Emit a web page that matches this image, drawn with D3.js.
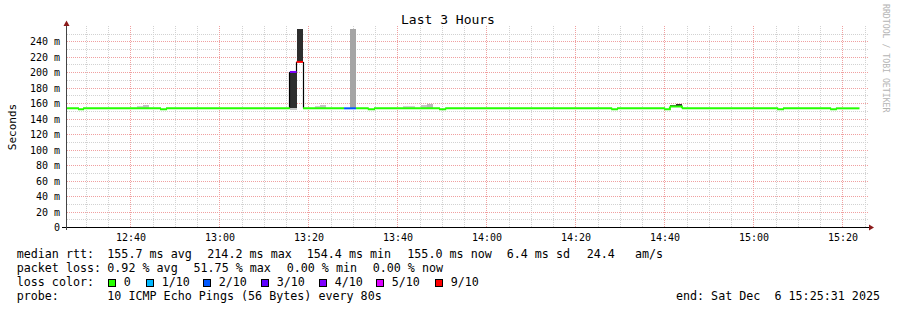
<!DOCTYPE html>
<html>
<head>
<meta charset="utf-8">
<script src="https://cdn.jsdelivr.net/npm/d3@7"></script>
<style>
  body { margin: 0; background: #fff; }
  svg { display: block; }
  text { font-family: "DejaVu Sans Mono", monospace; fill: #000; white-space: pre; }
</style>
</head>
<body>
<svg></svg>
<script>
const width = 897;
const height = 310;

// median rtt, as steps: change times, value (ms) and lost pings (out of 10)
const medianTime = ['12:25:31', '12:28:06', '12:29:14', '12:46:32', '12:47:53', '13:15:43', '13:17:13',
  '13:18:40', '13:27:53', '13:30:35', '13:33:13', '13:34:37', '13:49:13', '13:50:37', '14:27:55',
  '14:29:13', '14:39:49', '14:41:07', '14:43:49', '15:05:13', '15:06:31', '15:17:07', '15:18:25', '15:23:43'];
const medianValue = [154, 152.7, 154, 152.7, 154, 201, 214, 154, 154, 154, 152.7, 154, 152.7, 154, 152.7,
  154, 152.7, 156.5, 154, 152.7, 154, 152.7, 154];
const medianLoss = [0, 0, 0, 0, 0, 4, 9, 0, 2, 0, 0, 0, 0, 0, 0, 0, 0, 0, 0, 0, 0, 0, 0];

// smoke bands: start, end, low and high rtt (ms), pings in band
const smokeStart = ['12:41:20', '12:42:41', '13:15:43', '13:15:43', '13:17:13', '13:21:20', '13:22:35',
  '13:29:13', '13:41:04', '13:45:13', '13:46:34', '14:41:07', '14:42:28'];
const smokeEnd = ['12:42:41', '12:44:02', '13:17:13', '13:17:13', '13:18:40', '13:22:35', '13:23:50',
  '13:30:35', '13:43:49', '13:46:34', '13:47:55', '14:42:28', '14:43:49'];
const smokeLow = [155, 155, 151.5, 154, 214, 155, 155, 154, 155, 155, 155, 156.5, 156.5];
const smokeHigh = [157.5, 158.5, 154, 201, 257, 157.5, 158.3, 257, 157.5, 158, 159.5, 158.5, 160];
const smokePings = [2.3, 3, 2.8, 10, 10, 2.3, 2.8, 4.3, 2.2, 2.8, 3.4, 8.5, 10];

const yTicks = [0, 20, 40, 60, 80, 100, 120, 140, 160, 180, 200, 220, 240];
const lossLabels = ['0', '1/10', '2/10', '3/10', '4/10', '5/10', '9/10'];
const lossSteps = [0, 1, 2, 3, 4, 5, 9];
const lossColors = ['#26ff00', '#00b8ff', '#0059ff', '#5e00ff', '#7e00ff', '#dd00ff', '#ff0000'];

const rttStats = ['median rtt:', '155.7 ms avg', '214.2 ms max', '154.4 ms min', '155.0 ms now', '6.4 ms sd', '24.4', 'am/s'];
const lossStats = ['packet loss:', '0.92 % avg', '51.75 % max', '0.00 % min', '0.00 % now'];
const probeText = ['probe:', '10 ICMP Echo Pings (56 Bytes) every 80s'];
const endText = 'end: Sat Dec  6 15:25:31 2025';

const parseT = s => d3.timeParse('%Y-%m-%d %H:%M:%S')('2025-12-06 ' + s);

const svg = d3.select('svg')
  .attr('width', width)
  .attr('height', height);

const x = d3.scaleTime()
  .domain([parseT('12:25:31'), parseT('15:25:31')])
  .range([66.5, 867.5]);

const y = d3.scaleLinear()
  .domain([0, 260])
  .range([227.5, 26.3]);

const lossColor = d3.scaleOrdinal().domain(lossSteps).range(lossColors);
const smokeShade = d3.scaleLinear().domain([0, 10]).range(['#ffffff', '#2e2e2e']);
const px = v => Math.floor(v) + 0.5;

// ====================================
// Grid
// ====================================
const grid = svg.append('g')
  .attr('stroke-dasharray', '1,1')
  .attr('stroke-width', 1)
  .attr('shape-rendering', 'crispEdges');

const [t0, t1] = x.domain();
d3.timeMinute.every(5).range(t0, t1)
  .filter(d => d.getMinutes() % 20 !== 0)
  .forEach(d => {
    grid.append('line')
      .attr('x1', px(x(d))).attr('x2', px(x(d)))
      .attr('y1', 26).attr('y2', 227)
      .attr('stroke', '#d2d2d2');
  });

d3.range(10, 260, 20).forEach(v => {
  grid.append('line')
    .attr('x1', 67).attr('x2', 869)
    .attr('y1', px(y(v))).attr('y2', px(y(v)))
    .attr('stroke', '#d2d2d2');
});

x.ticks(d3.timeMinute.every(20)).forEach(d => {
  grid.append('line')
    .attr('x1', px(x(d))).attr('x2', px(x(d)))
    .attr('y1', 26).attr('y2', 227)
    .attr('stroke', '#f0a0a0');
});

yTicks.filter(v => v > 0).forEach(v => {
  grid.append('line')
    .attr('x1', 67).attr('x2', 869)
    .attr('y1', px(y(v))).attr('y2', px(y(v)))
    .attr('stroke', '#f0a0a0');
});

// ====================================
// Smoke
// ====================================
svg.append('g')
  .selectAll('rect')
  .data(smokeStart.map((s, i) => ({ s: parseT(s), e: parseT(smokeEnd[i]), lo: smokeLow[i], hi: smokeHigh[i], n: smokePings[i] })))
  .enter()
  .append('rect')
  .attr('x', d => x(d.s))
  .attr('width', d => x(d.e) - x(d.s))
  .attr('y', d => y(d.hi))
  .attr('height', d => y(d.lo) - y(d.hi))
  .attr('fill', d => smokeShade(d.n))
  .attr('shape-rendering', 'crispEdges');

// ====================================
// Median line
// ====================================
const segs = medianValue.map((v, i) => ({
  s: parseT(medianTime[i]), e: parseT(medianTime[i + 1]), v, loss: medianLoss[i]
}));

const med = svg.append('g').attr('fill', 'none');

segs.forEach((d, i) => {
  const next = segs[i + 1];
  if (next && next.loss !== d.loss) {
    med.append('line')
      .attr('x1', px(x(d.e))).attr('x2', px(x(d.e)))
      .attr('y1', y(d.v)).attr('y2', y(next.v))
      .attr('stroke', '#000')
      .attr('stroke-width', 1.2);
  }
});

segs.forEach((d, i) => {
  const next = segs[i + 1];
  let path = `M${x(d.s)},${y(d.v)}H${x(d.e)}`;
  if (next && next.loss === d.loss) path += `V${y(next.v)}`;
  med.append('path')
    .attr('d', path)
    .attr('stroke', lossColor(d.loss))
    .attr('stroke-width', 2);
});

// ====================================
// Axes
// ====================================
svg.append('line')
  .attr('x1', 62).attr('x2', 869)
  .attr('y1', 227.5).attr('y2', 227.5)
  .attr('stroke', '#000');

svg.append('line')
  .attr('x1', 66.5).attr('x2', 66.5)
  .attr('y1', 24).attr('y2', 230)
  .attr('stroke', '#444');

svg.append('path')
  .attr('d', 'M869,224.5L874,227.5L869,230.5Z')
  .attr('fill', '#8b1a1a');

svg.append('path')
  .attr('d', 'M63.5,26L66.5,20.5L69.5,26Z')
  .attr('fill', '#8b1a1a');

svg.append('g')
  .selectAll('text')
  .data(yTicks)
  .enter()
  .append('text')
  .attr('x', 60)
  .attr('y', d => px(y(d)) + 3.8)
  .attr('text-anchor', 'end')
  .attr('font-size', '10px')
  .text(d => d === 0 ? '0' : `${d} m`);

svg.append('g')
  .selectAll('text')
  .data(x.ticks(d3.timeMinute.every(20)))
  .enter()
  .append('text')
  .attr('x', d => x(d))
  .attr('y', 241)
  .attr('text-anchor', 'middle')
  .attr('font-size', '10px')
  .text(d3.timeFormat('%H:%M'));

// =================================
// Titles
// =================================
svg.append('text')
  .text('Last 3 Hours')
  .attr('x', 448)
  .attr('y', 24)
  .attr('text-anchor', 'middle')
  .attr('font-size', '13px');

svg.append('text')
  .text('Seconds')
  .attr('transform', 'translate(15.5,127) rotate(-90)')
  .attr('text-anchor', 'middle')
  .attr('font-family', 'DejaVu Sans')
  .attr('font-size', '11px');

svg.append('text')
  .text('RRDTOOL / TOBI OETIKER')
  .attr('transform', 'translate(883,4) rotate(90)')
  .attr('font-size', '8.2px')
  .style('fill', '#b4b4b4');

// =================================
// Legend
// =================================
const legend = svg.append('g').attr('font-size', '11.7px');
const rttX = [16.7, 107.3, 207.3, 306.7, 407.3, 506.7, 586.7, 635];
const lossX = [16.7, 107.3, 193.5, 286.7, 372.7];

rttStats.forEach((s, i) => legend.append('text').attr('x', rttX[i]).attr('y', 258).text(s));
lossStats.forEach((s, i) => legend.append('text').attr('x', lossX[i]).attr('y', 272).text(s));

legend.append('text').attr('x', 16.7).attr('y', 286).text('loss color:');
const boxX = [108.5, 146.5, 203.5, 261.5, 319.5, 376.5, 435.5];
lossLabels.forEach((l, i) => {
  legend.append('rect')
    .attr('x', boxX[i]).attr('y', 279.5)
    .attr('width', 7).attr('height', 7)
    .attr('fill', lossColor(lossSteps[i]))
    .attr('stroke', '#000');
  legend.append('text').attr('x', boxX[i] + 15.2).attr('y', 286).text(l);
});

legend.append('text').attr('x', 16.7).attr('y', 300).text(probeText[0]);
legend.append('text').attr('x', 107.3).attr('y', 300).text(probeText[1]);
legend.append('text').attr('x', 880).attr('y', 300).attr('text-anchor', 'end').text(endText);
</script>
</body>
</html>
